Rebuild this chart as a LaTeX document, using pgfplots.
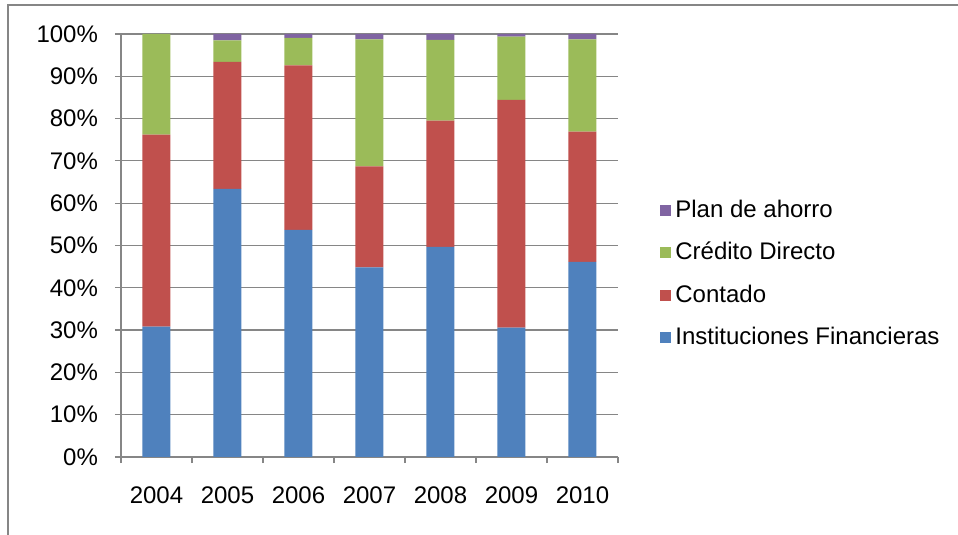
\documentclass[border=0pt]{standalone}
\usepackage{pgfplots}
\pgfplotsset{compat=1.18}
\usepackage{fontspec}
\setmainfont{Liberation Sans}

\definecolor{cInst}{HTML}{4F81BD}
\definecolor{cCont}{HTML}{C0504D}
\definecolor{cCred}{HTML}{9BBB59}
\definecolor{cPlan}{HTML}{8064A2}
\definecolor{axgray}{HTML}{868686}

\begin{document}
\begin{tikzpicture}
  % page = 958 x 535 px, 1 px = 0.5 pt, plot area lower-left at origin
  \useasboundingbox (-60.5pt,-39pt) rectangle (418.5pt,228.5pt);
  \draw[axgray, line width=1pt] (-56.5pt,-45pt) -- (-56.5pt,226pt) -- (425pt,226pt);
  \begin{axis}[
      at={(0pt,0pt)}, anchor=south west,
      scale only axis,
      width=248.5pt, height=211.5pt,
      ybar stacked,
      bar width=14pt,
      xmin=-0.5, xmax=6.5,
      ymin=0, ymax=100,
      axis x line*=bottom,
      axis y line*=left,
      axis line style={axgray, line width=0.6pt},
      xtick={0,...,6},
      xticklabels={2004,2005,2006,2007,2008,2009,2010},
      major x tick style={draw=none},
      minor xtick={-0.5,0.5,...,6.5},
      minor tick length=3pt,
      major tick length=3pt,
      tick align=outside,
      tick style={axgray, line width=0.6pt},
      ytick={0,10,...,100},
      yticklabels={0\%,10\%,20\%,30\%,40\%,50\%,60\%,70\%,80\%,90\%,100\%},
      ymajorgrids,
      grid style={axgray, line width=0.6pt},
      ticklabel style={font=\fontsize{12}{14}\selectfont},
      yticklabel style={xshift=-5pt},
      xticklabel style={yshift=-8.5pt},
      reverse legend,
      legend cell align=left,
      legend style={
        at={(axis description cs:1.0845,0.433)}, anchor=west,
        draw=none, fill=none, inner sep=0pt,
        font=\fontsize{12}{14}\selectfont,
        row sep=7pt,
      },
      legend image code/.code={\fill[#1,draw=none] (0pt,-2.75pt) rectangle (5.5pt,2.75pt);},
    ]
    % Instituciones Financieras
    \addplot[fill=cInst, draw=none] coordinates {
      (0,30.8) (1,63.4) (2,53.7) (3,44.8) (4,49.7) (5,30.6) (6,46.1)
    };
    \addlegendentry{Instituciones Financieras}
    % Contado
    \addplot[fill=cCont, draw=none] coordinates {
      (0,45.4) (1,30.0) (2,38.9) (3,23.9) (4,29.8) (5,53.8) (6,30.8)
    };
    \addlegendentry{Contado}
    % Credito Directo
    \addplot[fill=cCred, draw=none] coordinates {
      (0,23.8) (1,5.1) (2,6.5) (3,30.0) (4,19.1) (5,15.0) (6,21.8)
    };
    \addlegendentry{Crédito Directo}
    % Plan de ahorro
    \addplot[fill=cPlan, draw=none] coordinates {
      (0,0) (1,1.5) (2,0.9) (3,1.3) (4,1.4) (5,0.6) (6,1.3)
    };
    \addlegendentry{Plan de ahorro}
  \end{axis}
\end{tikzpicture}
\end{document}
